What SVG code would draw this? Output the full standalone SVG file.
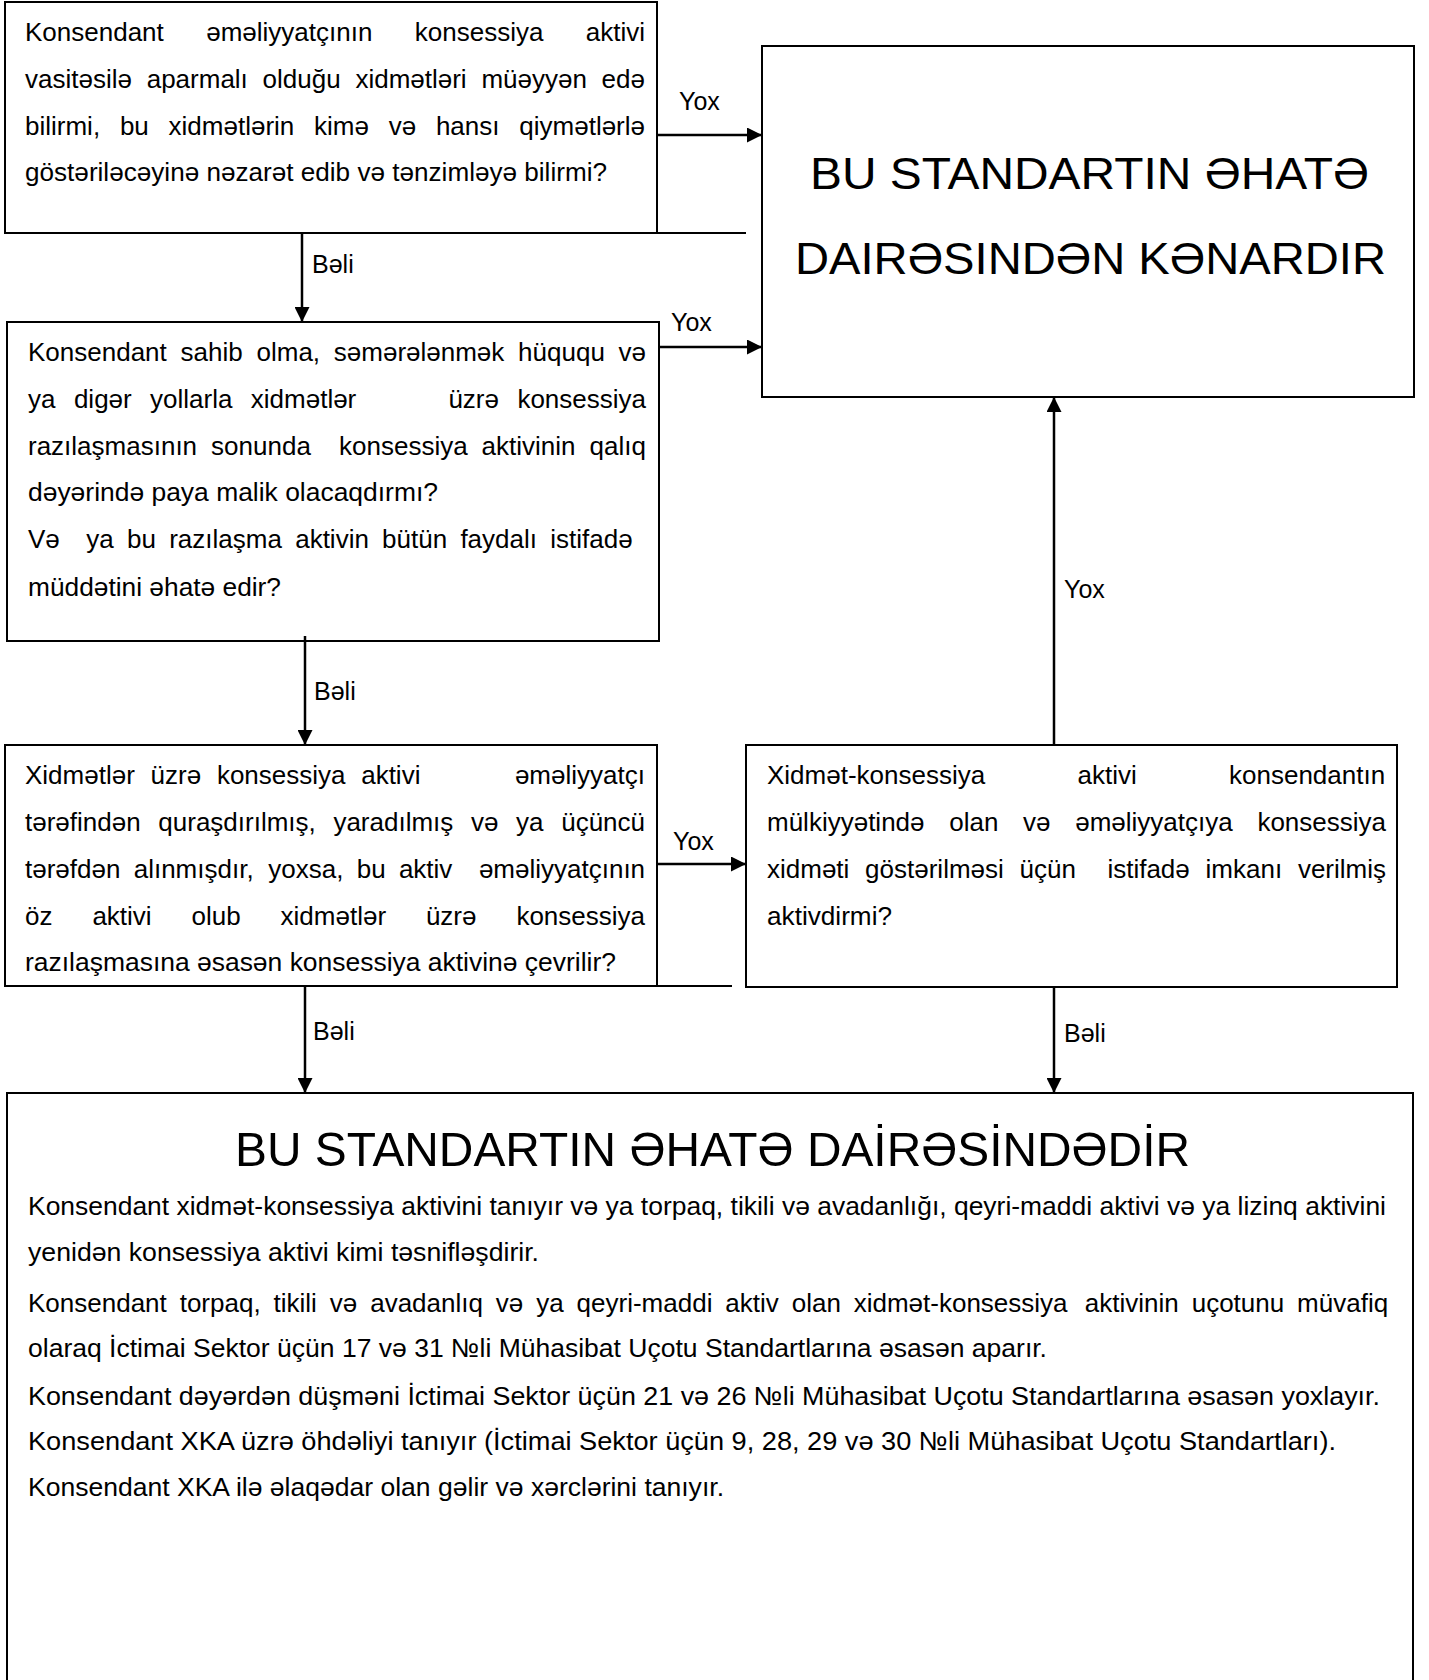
<svg xmlns="http://www.w3.org/2000/svg" width="1429" height="1680" viewBox="0 0 1429 1680">
<style>
.t{font-family:"Liberation Sans",Arial,"DejaVu Sans",sans-serif;font-size:26px;fill:#000}
.lbl{font-family:"Liberation Sans",Arial,"DejaVu Sans",sans-serif;font-size:25px;fill:#000}
.big{font-family:"Liberation Sans",Arial,"DejaVu Sans",sans-serif;font-size:45px;fill:#000}
.title{font-family:"Liberation Sans",Arial,"DejaVu Sans",sans-serif;font-size:49px;fill:#000}
.box{fill:#fff;stroke:#000;stroke-width:2}
.ext{stroke:#000;stroke-width:2;fill:none}
.c{stroke:#000;stroke-width:2.5;fill:none;marker-end:url(#arr)}
</style>
<defs>
<marker id="arr" markerUnits="userSpaceOnUse" markerWidth="15" markerHeight="15" viewBox="0 0 15 15" refX="15" refY="7.5" orient="auto">
<path d="M0,0 L15,7.5 L0,15 z" fill="#000"/>
</marker>
</defs>
<rect width="1429" height="1680" fill="#fff"/>

<g id="node-q1">
<rect class="box" x="5" y="2" width="652" height="231"/>
<line class="ext" x1="657" y1="233" x2="746" y2="233"/>
<text class="t" y="41"><tspan x="25">Konsendant</tspan><tspan x="206.2">əməliyyatçının</tspan><tspan x="414.8">konsessiya</tspan><tspan x="585.8">aktivi</tspan></text>
<text class="t" y="88"><tspan x="25">vasitəsilə</tspan><tspan x="146.7">aparmalı</tspan><tspan x="262.6">olduğu</tspan><tspan x="355.4">xidmətləri</tspan><tspan x="481.4">müəyyən</tspan><tspan x="601.6">edə</tspan></text>
<text class="t" y="135"><tspan x="25">bilirmi,</tspan><tspan x="119.9">bu</tspan><tspan x="168.6">xidmətlərin</tspan><tspan x="314">kimə</tspan><tspan x="388.7">və</tspan><tspan x="435.9">hansı</tspan><tspan x="519.3">qiymətlərlə</tspan></text>
<text class="t" x="25" y="181" textLength="582" lengthAdjust="spacingAndGlyphs">göstəriləcəyinə nəzarət edib və tənzimləyə bilirmi?</text>
</g>

<g id="node-out">
<rect class="box" x="762" y="46" width="652" height="351"/>
<text class="big" x="810" y="189" textLength="559" lengthAdjust="spacingAndGlyphs">BU STANDARTIN ƏHATƏ</text>
<text class="big" x="795" y="274" textLength="591" lengthAdjust="spacingAndGlyphs">DAIRƏSINDƏN KƏNARDIR</text>
</g>

<g id="node-q2">
<rect class="box" x="7" y="322" width="652" height="319"/>
<text class="t" y="361"><tspan x="28">Konsendant</tspan><tspan x="180.5">sahib</tspan><tspan x="256.5">olma,</tspan><tspan x="333.8">səmərələnmək</tspan><tspan x="518.1">hüququ</tspan><tspan x="618.6">və</tspan></text>
<text class="t" y="408"><tspan x="28">ya</tspan><tspan x="73.9">digər</tspan><tspan x="150.1">yollarla</tspan><tspan x="250.8">xidmətlər</tspan><tspan x="448.4">üzrə</tspan><tspan x="517.4">konsessiya</tspan></text>
<text class="t" y="455"><tspan x="28">razılaşmasının</tspan><tspan x="211.1">sonunda</tspan><tspan x="339">konsessiya</tspan><tspan x="481.6">aktivinin</tspan><tspan x="589.6">qalıq</tspan></text>
<text class="t" x="28" y="501" textLength="410" lengthAdjust="spacingAndGlyphs">dəyərində paya malik olacaqdırmı?</text>
<text class="t" y="548"><tspan x="28">Və</tspan><tspan x="86.3">ya</tspan><tspan x="127">bu</tspan><tspan x="169.2">razılaşma</tspan><tspan x="295.2">aktivin</tspan><tspan x="382.1">bütün</tspan><tspan x="460.4">faydalı</tspan><tspan x="550.3">istifadə</tspan></text>
<text class="t" x="28" y="596" textLength="253" lengthAdjust="spacingAndGlyphs">müddətini əhatə edir?</text>
</g>

<g id="node-q3">
<rect class="box" x="5" y="745" width="652" height="241"/>
<line class="ext" x1="657" y1="986" x2="732" y2="986"/>
<text class="t" y="784"><tspan x="25">Xidmətlər</tspan><tspan x="150.6">üzrə</tspan><tspan x="216.9">konsessiya</tspan><tspan x="361.2">aktivi</tspan><tspan x="514.9">əməliyyatçı</tspan></text>
<text class="t" y="831"><tspan x="25">tərəfindən</tspan><tspan x="158.3">quraşdırılmış,</tspan><tspan x="333.4">yaradılmış</tspan><tspan x="471">və</tspan><tspan x="516.1">ya</tspan><tspan x="561.2">üçüncü</tspan></text>
<text class="t" y="878"><tspan x="25">tərəfdən</tspan><tspan x="133.7">alınmışdır,</tspan><tspan x="268.3">yoxsa,</tspan><tspan x="356.7">bu</tspan><tspan x="398.9">aktiv</tspan><tspan x="478.9">əməliyyatçının</tspan></text>
<text class="t" y="925"><tspan x="25">öz</tspan><tspan x="92.4">aktivi</tspan><tspan x="191.5">olub</tspan><tspan x="280.6">xidmətlər</tspan><tspan x="425.9">üzrə</tspan><tspan x="516.4">konsessiya</tspan></text>
<text class="t" x="25" y="971" textLength="591" lengthAdjust="spacingAndGlyphs">razılaşmasına əsasən konsessiya aktivinə çevrilir?</text>
</g>

<g id="node-q4">
<rect class="box" x="746" y="745" width="651" height="242"/>
<text class="t" y="784"><tspan x="767">Xidmət-konsessiya</tspan><tspan x="1077.5">aktivi</tspan><tspan x="1229">konsendantın</tspan></text>
<text class="t" y="831"><tspan x="767">mülkiyyətində</tspan><tspan x="949.2">olan</tspan><tspan x="1023">və</tspan><tspan x="1075.2">əməliyyatçıya</tspan><tspan x="1257.4">konsessiya</tspan></text>
<text class="t" y="878"><tspan x="767">xidməti</tspan><tspan x="865.1">göstərilməsi</tspan><tspan x="1019.5">üçün</tspan><tspan x="1107.4">istifadə</tspan><tspan x="1205.6">imkanı</tspan><tspan x="1297.9">verilmiş</tspan></text>
<text class="t" x="767" y="925" textLength="125" lengthAdjust="spacingAndGlyphs">aktivdirmi?</text>
</g>

<g id="node-in">
<rect class="box" x="7" y="1093" width="1406" height="620"/>
<text class="title" x="235" y="1166" textLength="955" lengthAdjust="spacingAndGlyphs">BU STANDARTIN ƏHATƏ DAİRƏSİNDƏDİR</text>
<text class="t" x="28" y="1215" textLength="1358" lengthAdjust="spacingAndGlyphs">Konsendant xidmət-konsessiya aktivini tanıyır və ya torpaq, tikili və avadanlığı, qeyri-maddi aktivi və ya lizinq aktivini</text>
<text class="t" x="28" y="1261" textLength="511" lengthAdjust="spacingAndGlyphs">yenidən konsessiya aktivi kimi təsnifləşdirir.</text>
<text class="t" y="1312"><tspan x="28">Konsendant</tspan><tspan x="179.7">torpaq,</tspan><tspan x="273.5">tikili</tspan><tspan x="329.8">və</tspan><tspan x="370.2">avadanlıq</tspan><tspan x="495.8">və</tspan><tspan x="536.2">ya</tspan><tspan x="576.6">qeyri-maddi</tspan><tspan x="725.3">aktiv</tspan><tspan x="791.7">olan</tspan><tspan x="853.7">xidmət-konsessiya</tspan><tspan x="1084.8">aktivinin</tspan><tspan x="1191.7">uçotunu</tspan><tspan x="1297.1">müvafiq</tspan></text>
<text class="t" x="28" y="1357" textLength="1019" lengthAdjust="spacingAndGlyphs">olaraq İctimai Sektor üçün 17 və 31 №li Mühasibat Uçotu Standartlarına əsasən aparır.</text>
<text class="t" x="28" y="1405" textLength="1352" lengthAdjust="spacingAndGlyphs">Konsendant dəyərdən düşməni İctimai Sektor üçün 21 və 26 №li Mühasibat Uçotu Standartlarına əsasən yoxlayır.</text>
<text class="t" x="28" y="1450" textLength="1308" lengthAdjust="spacingAndGlyphs">Konsendant XKA üzrə öhdəliyi tanıyır (İctimai Sektor üçün 9, 28, 29 və 30 №li Mühasibat Uçotu Standartları).</text>
<text class="t" x="28" y="1496" textLength="696" lengthAdjust="spacingAndGlyphs">Konsendant XKA ilə əlaqədar olan gəlir və xərclərini tanıyır.</text>
</g>

<g id="connectors">
<line class="c" x1="302" y1="233" x2="302" y2="322"/>
<line class="c" x1="305" y1="636" x2="305" y2="745"/>
<line class="c" x1="305" y1="986" x2="305" y2="1093"/>
<line class="c" x1="1054" y1="987" x2="1054" y2="1093"/>
<line class="c" x1="1054" y1="745" x2="1054" y2="397"/>
<line class="c" x1="657" y1="135" x2="762" y2="135"/>
<line class="c" x1="659" y1="347" x2="762" y2="347"/>
<line class="c" x1="657" y1="864" x2="746" y2="864"/>
<text class="lbl" x="312" y="273">Bəli</text>
<text class="lbl" x="314" y="700">Bəli</text>
<text class="lbl" x="313" y="1040">Bəli</text>
<text class="lbl" x="1064" y="1042">Bəli</text>
<text class="lbl" x="1064" y="598">Yox</text>
<text class="lbl" x="679" y="110">Yox</text>
<text class="lbl" x="671" y="331">Yox</text>
<text class="lbl" x="673" y="850">Yox</text>
</g>
</svg>
